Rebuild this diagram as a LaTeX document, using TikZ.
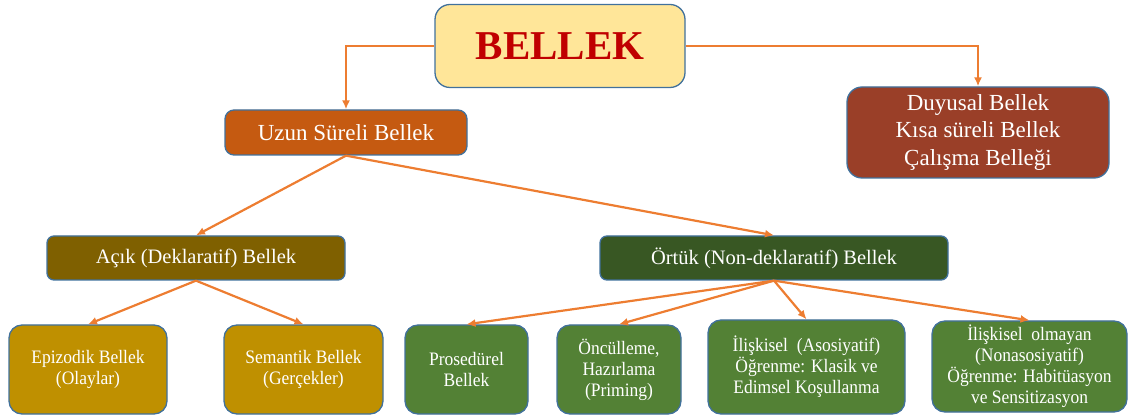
\documentclass[tikz,border=0pt]{standalone}
\usepackage{fontspec}
\setmainfont{Liberation Serif}
\newfontfamily\leaffont{Liberation Serif}[FakeStretch=0.92]
\usepackage{tikz}
\usetikzlibrary{shapes, arrows.meta, positioning}
\usepackage{xcolor}

\definecolor{edge}{HTML}{41719C}
\definecolor{link}{HTML}{ED7D31}
\definecolor{rootfill}{HTML}{FFE699}
\definecolor{roottext}{HTML}{C00000}
\definecolor{longfill}{HTML}{C55A11}
\definecolor{shortfill}{HTML}{9A3F28}
\definecolor{explfill}{HTML}{7F6000}
\definecolor{implfill}{HTML}{385723}
\definecolor{goldfill}{HTML}{BF9000}
\definecolor{greenfill}{HTML}{538135}

\begin{document}
\begin{tikzpicture}[x=1pt, y=1pt,
    box/.style={draw=edge, line width=1.3pt, text=white, inner sep=0pt,
        align=center, text centered},
    bigbox/.style={box, rounded corners=9pt,
        font=\fontsize{23}{27.5}\selectfont},
    midbox/.style={box, rounded corners=7pt,
        font=\fontsize{20.5}{24}\selectfont},
    leafbox/.style={box, rounded corners=13pt, minimum height=89pt,
        font=\leaffont\fontsize{19}{21}\selectfont},
    arrow/.style={-{Latex[length=9pt,width=8pt]}, draw=link, line width=2.2pt}]

\useasboundingbox (0,0) rectangle (1129,-419);

\node[box,
    fill=rootfill,
    text=roottext,
    rounded corners=15pt,
    minimum width=250pt,
    minimum height=83pt,
    font=\fontsize{41}{41}\selectfont\bfseries
] (bellek) at (560,-46) {BELLEK};

\node[bigbox,
    fill=longfill,
    minimum width=242pt,
    minimum height=45pt
] (uzun) at (346,-132.5) {Uzun Süreli Bellek};

\node[bigbox,
    fill=shortfill,
    rounded corners=15pt,
    minimum width=262pt,
    minimum height=91pt
] (duyusal) at (978,-132.5) {Duyusal Bellek\\Kısa süreli Bellek\\Çalışma Belleği};

\node[midbox,
    fill=explfill,
    minimum width=298pt,
    minimum height=44pt
] (acik) at (196,-258) {Açık (Deklaratif) Bellek};

\node[midbox,
    fill=implfill,
    minimum width=348pt,
    minimum height=44pt
] (ortuk) at (774,-258) {Örtük (Non-deklaratif) Bellek};

% Leaves
\node[leafbox, fill=goldfill, minimum width=158pt] (epizodik) at (88,-369.5) {Epizodik Bellek\\(Olaylar)};
\node[leafbox, fill=goldfill, minimum width=159pt] (semantik) at (303.5,-369.5) {Semantik Bellek\\(Gerçekler)};
\node[leafbox, fill=greenfill, minimum width=123pt] (prosedurel) at (466.5,-369.5) {Prosedürel\\Bellek};
\node[leafbox, fill=greenfill, minimum width=124pt] (oncul) at (619,-369.5) {Öncülleme,\\Hazırlama\\(Priming)};
\node[leafbox, fill=greenfill, minimum width=197pt, minimum height=94pt] (iliskisel) at (806.5,-367) {İlişkisel\ \ (Asosiyatif)\\Öğrenme: Klasik ve\\Edimsel Koşullanma};
\node[leafbox, fill=greenfill, minimum width=195pt, minimum height=91pt] (olmayan) at (1029.5,-366.5) {İlişkisel\ \ olmayan\\(Nonasosiyatif)\\Öğrenme: Habitüasyon\\ve Sensitizasyon};

% Arrows
\draw [arrow] (bellek.west) -| (uzun.north);
\draw [arrow] (bellek.east) -| (duyusal.north);
\draw [arrow] (uzun.south) -- (acik.north);
\draw [arrow] (uzun.south) -- (ortuk.north);
\draw [arrow] (acik.south) -- (epizodik.north);
\draw [arrow] (acik.south) -- (semantik.north);
\draw [arrow] (ortuk.south) -- (prosedurel.north);
\draw [arrow] (ortuk.south) -- (oncul.north);
\draw [arrow] (ortuk.south) -- (iliskisel.north);
\draw [arrow] (ortuk.south) -- (olmayan.north);
\end{tikzpicture}
\end{document}
